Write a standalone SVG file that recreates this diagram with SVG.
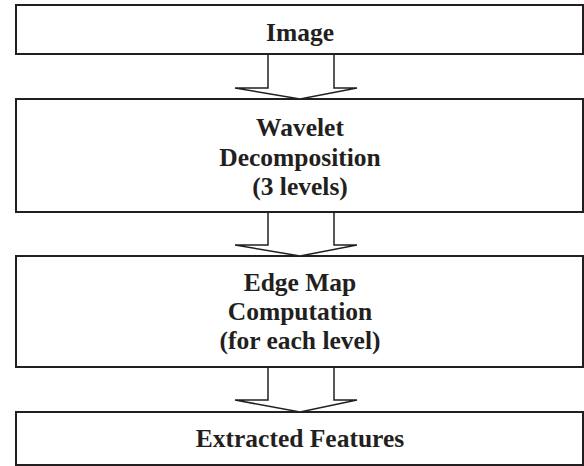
<svg xmlns="http://www.w3.org/2000/svg" width="584" height="466" viewBox="0 0 584 466">
<style>
.box{fill:#fff;stroke:#231f20;stroke-width:2}
.arrow{fill:#fff;stroke:#231f20;stroke-width:1.5;stroke-linejoin:miter}
.t{font-family:"Liberation Serif","Times New Roman",serif;font-weight:bold;font-size:25.5px;fill:#231f20;text-anchor:middle}
</style>
<rect width="584" height="466" fill="#fff"/>
<g id="node-image">
<rect class="box" x="16" y="5" width="567" height="49"/>
<text class="t" x="300" y="41">Image</text>
</g>
<g id="node-wavelet">
<rect class="box" x="16" y="99" width="567" height="113"/>
<text class="t" x="300" y="136">Wavelet</text>
<text class="t" x="300" y="166">Decomposition</text>
<text class="t" x="300" y="195">(3 levels)</text>
</g>
<g id="node-edge">
<rect class="box" x="16" y="256" width="567" height="111"/>
<text class="t" x="300" y="291">Edge Map</text>
<text class="t" x="300" y="320">Computation</text>
<text class="t" x="300" y="349">(for each level)</text>
</g>
<g id="node-features">
<rect class="box" x="16" y="412" width="567" height="53"/>
<text class="t" x="300" y="447">Extracted Features</text>
</g>
<g id="connectors">
<path class="arrow" d="M268,55 L268,88 L235,88 L300,99 L357,88 L334,88 L334,55"/>
<path class="arrow" d="M268,213 L268,245 L235,245 L300,256 L357,245 L334,245 L334,213"/>
<path class="arrow" d="M268,368 L268,400 L235,400 L300,412 L357,400 L334,400 L334,368"/>
</g>
</svg>
